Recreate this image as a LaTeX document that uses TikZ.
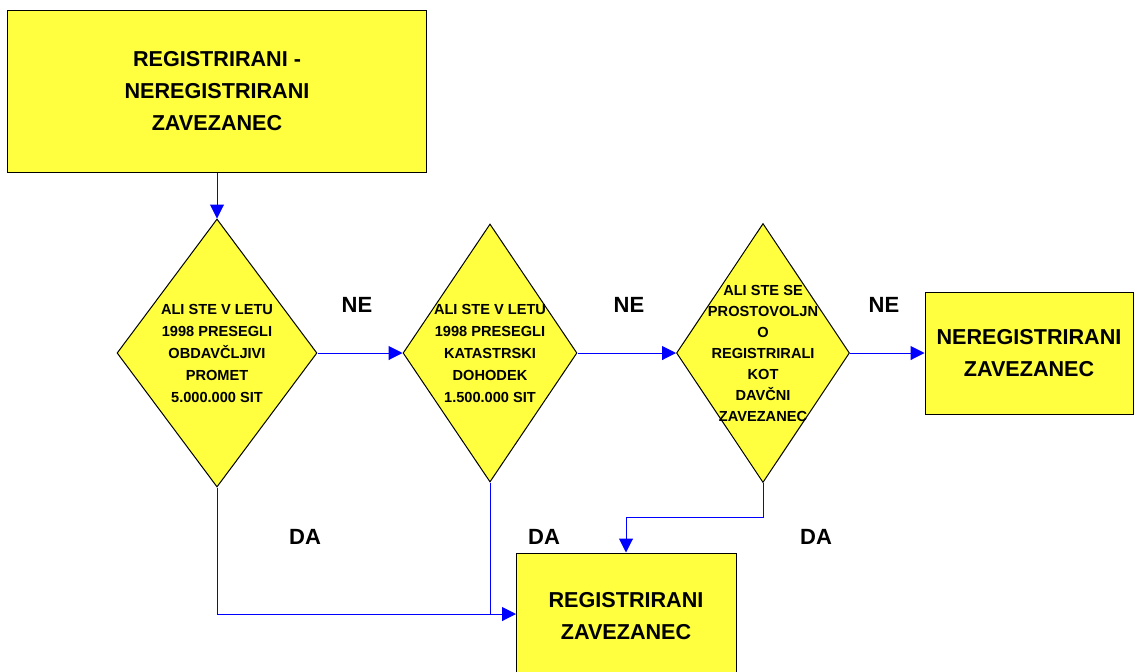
\documentclass[tikz,border=0pt]{standalone}
\usepackage{fontspec}
\setmainfont{Liberation Sans}
\usetikzlibrary{shapes.geometric,arrows.meta,calc}
\definecolor{boxyellow}{RGB}{255,255,64}
\definecolor{linkblue}{RGB}{0,0,255}
\tikzset{
 box/.style={draw=black, line width=0.5pt, fill=boxyellow, inner sep=0pt, align=center, font=\bfseries\fontsize{10.8}{16}\selectfont},
 dia/.style={diamond, draw=black, line width=0.5pt, fill=boxyellow, inner sep=0pt},
 diatext/.style={align=center, font=\bfseries\fontsize{7.3}{11}\selectfont, inner sep=0pt},
 diatextb/.style={align=center, font=\bfseries\fontsize{7.3}{10.5}\selectfont, inner sep=0pt},
 conn/.style={draw=linkblue, line width=0.5pt},
 arr/.style={conn, -{Triangle[length=7pt,width=7pt]}},
 lbl/.style={font=\bfseries\fontsize{11}{13}\selectfont, inner sep=0pt}
}
\begin{document}
\begin{tikzpicture}[x=0.5pt,y=-0.5pt]
\useasboundingbox (0,0) rectangle (1134,671);
% boxes
\node[box, minimum width=209.5pt, minimum height=81pt] (top) at (217,91) {REGISTRIRANI -\\NEREGISTRIRANI\\ZAVEZANEC};
\node[box, minimum width=104pt, minimum height=61pt] (nereg) at (1029,353) {NEREGISTRIRANI\\ZAVEZANEC};
\node[box, minimum width=110pt, minimum height=73.5pt] (reg) at (626,626.5) {};
\node[box, draw=none, fill=none] (regtxt) at (626,616) {REGISTRIRANI\\ZAVEZANEC};
% diamonds
\node[dia, minimum width=100pt, minimum height=134pt] (d1) at (217,353) {};
\node[dia, minimum width=87pt, minimum height=129pt] (d2) at (490,353) {};
\node[dia, minimum width=86.5pt, minimum height=129.5pt] (d3) at (763,353) {};
\node[diatext] (t1) at (d1.center) {ALI STE V LETU\\1998 PRESEGLI\\OBDAVČLJIVI\\PROMET\\5.000.000 SIT};
\node[diatext] (t2) at (d2.center) {ALI STE V LETU\\1998 PRESEGLI\\KATASTRSKI\\DOHODEK\\1.500.000 SIT};
\node[diatextb] (t3) at (d3.center) {ALI STE SE\\PROSTOVOLJN\\O\\REGISTRIRALI\\KOT\\DAVČNI\\ZAVEZANEC};
% labels
\node[lbl] (ne1) at (357,305) {NE};
\node[lbl] (ne2) at (629,305) {NE};
\node[lbl] (ne3) at (884,305) {NE};
\node[lbl] (da1) at (305,537) {DA};
\node[lbl] (da2) at (544,537) {DA};
\node[lbl] (da3) at (816,537) {DA};
% connectors
\coordinate (regin) at (516,614);
\draw[arr] (top.south) -- (d1.north);
\draw[arr] (d1.east) -- (d2.west);
\draw[arr] (d2.east) -- (d3.west);
\draw[arr] (d3.east) -- (nereg.west);
\draw[arr] (d1.south) |- (regin);
\draw[conn] (d2.south) -- (d2.south |- regin);
\draw[arr] (d3.south) |- ($(d3.south)!0.5!(reg.north)$) -| (reg.north);
\end{tikzpicture}
\end{document}
